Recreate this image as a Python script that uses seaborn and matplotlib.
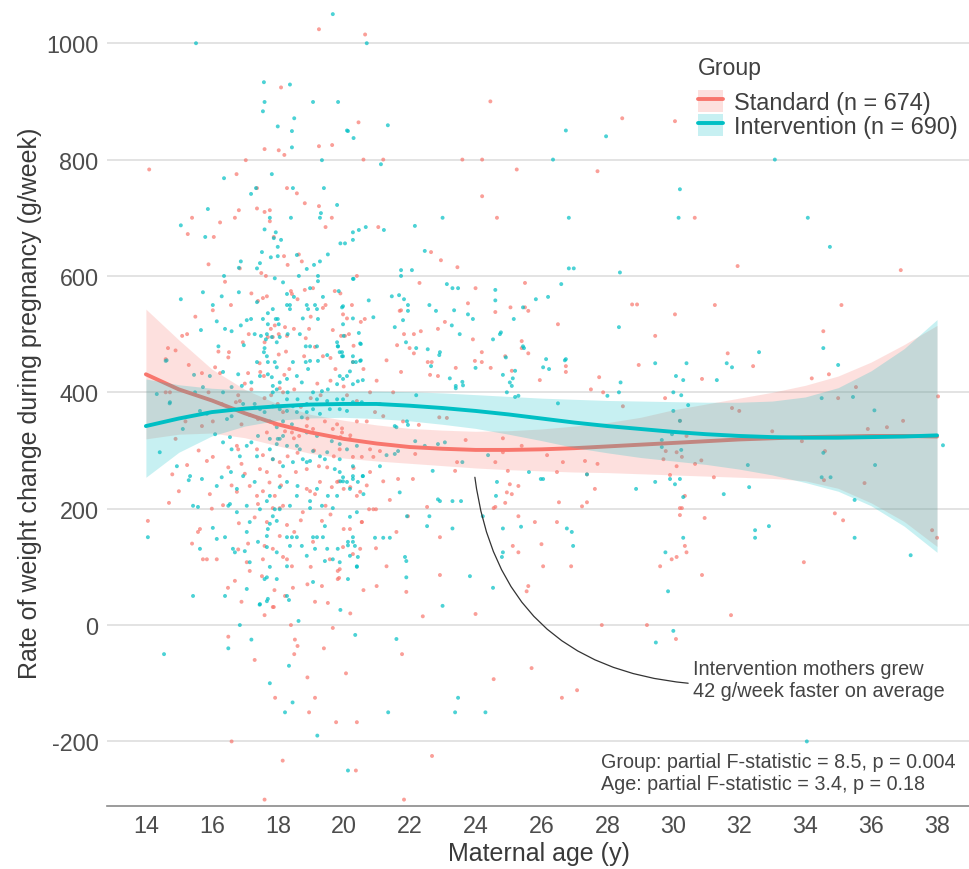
import numpy as np
import pandas as pd
import matplotlib
matplotlib.use("Agg")
import matplotlib.pyplot as plt
from matplotlib.patches import Patch
from matplotlib.lines import Line2D
import seaborn as sns

# --- data ---------------------------------------------------------------------
groups = ["Standard", "Intervention"]
group_labels = ["Standard (n = 674)", "Intervention (n = 690)"]

# (maternal age, weight change g/week)
std_points = [
    (14.1, 783), (19.25, 1024), (18.1, 924), (17.6, 818), (18.03, 816), (18.2, 808), (17.03, 799),
    (19.25, 823), (19.65, 825), (20.45, 864), (20.6, 800), (16.75, 775), (17.37, 751), (18.28, 751),
    (18.58, 742), (18.82, 725), (19.25, 720), (19.64, 700), (19.45, 684), (15.4, 700), (15.27, 672),
    (16.06, 667), (16.25, 692), (16.7, 700), (16.82, 713), (17.37, 716), (17.6, 710), (17.76, 713),
    (17.76, 694), (17.88, 667), (18.19, 634), (18.3, 619), (18.64, 637), (18.73, 625), (16.85, 613),
    (17.5, 605), (17.64, 600), (18.4, 574), (18.43, 569), (18.82, 576), (19.07, 579), (19.73, 574),
    (19.9, 570), (20.4, 600), (20.25, 550), (17.4, 557), (17.55, 562), (17.67, 565), (16.58, 550),
    (16.03, 541), (19.37, 545), (19.45, 550), (19.98, 534), (20.1, 527), (20.52, 521), (20.64, 526),
    (17.91, 515), (17.79, 509), (18.22, 512), (18.49, 509), (18.95, 509), (19.67, 507), (20.16, 500),
    (20.04, 497), (15.1, 497), (15.25, 500), (17.12, 500), (17.7, 495), (17.85, 495), (18.03, 500),
    (18.28, 497), (18.85, 493), (19.92, 497), (16.94, 486), (17.6, 486), (19.13, 478), (14.67, 476),
    (20.65, 1015), (24.45, 900), (28.45, 871), (21.2, 800), (23.6, 800), (24.2, 800), (25.25, 783),
    (27.7, 780), (24.2, 737), (24.65, 700), (21.05, 684), (22.95, 627), (22.65, 641), (23.45, 615),
    (30.05, 866), (30.65, 700), (31.95, 617), (36.9, 610), (22.3, 588), (25.5, 588), (24.0, 579),
    (21.74, 541), (23.77, 553), (24.6, 538), (25.06, 546), (25.5, 546), (25.6, 540), (26.5, 517),
    (21.7, 540), (21.83, 500), (22.13, 500), (22.34, 505), (22.86, 509), (23.07, 521), (22.0, 476),
    (22.55, 452), (22.67, 452), (21.62, 481), (21.74, 435), (22.13, 467), (22.62, 430), (22.86, 428),
    (23.4, 442), (23.92, 491), (23.98, 454), (24.19, 469), (24.19, 452), (24.46, 442), (24.9, 462),
    (25.1, 437), (25.4, 488), (25.4, 476), (25.6, 467), (25.95, 421), (26.74, 445), (26.74, 435),
    (27.5, 405), (27.75, 426), (27.87, 400), (28.47, 376), (28.75, 551), (28.9, 551), (28.95, 447),
    (29.45, 497), (19.8, 345), (19.95, 338), (20.2, 326), (19.9, 323), (20.95, 366), (21.2, 359),
    (21.8, 350), (22.28, 344), (22.9, 357), (23.13, 356), (21.5, 400), (20.8, 302), (21.1, 299),
    (20.9, 289), (22.17, 294), (20.8, 263), (21.2, 247), (21.65, 251), (22.1, 251), (23.44, 280),
    (23.38, 265), (23.7, 318), (24.83, 321), (24.83, 297), (24.98, 265), (24.6, 280), (25.4, 308),
    (26.17, 292), (26.47, 263), (26.65, 280), (27.32, 282), (27.38, 259), (27.7, 277), (25.04, 242),
    (24.95, 228), (24.9, 210), (25.1, 225), (25.3, 239), (24.6, 203), (24.55, 201), (25.3, 187),
    (22.92, 151), (22.53, 203), (21.95, 187), (20.98, 132), (21.3, 101), (21.0, 67), (21.9, 57),
    (22.92, 86), (25.13, 136), (25.3, 125), (25.55, 58), (25.6, 67), (26.0, 139), (25.8, 177),
    (26.05, 101), (26.47, 177), (26.53, 211), (27.23, 204), (27.38, 211), (27.62, 234), (26.9, 101),
    (19.98, 134), (19.82, 93), (19.86, 81), (20.55, 177), (20.77, 199), (20.9, 199), (20.98, 199),
    (31.26, 550), (35.1, 550), (30.05, 534), (34.55, 505), (31.65, 467), (32.42, 445), (34.2, 424),
    (34.72, 431), (30.87, 423), (29.75, 390), (35.54, 409), (35.0, 390), (38.03, 393), (31.78, 373),
    (32.0, 368), (33.0, 333), (33.9, 316), (35.9, 337), (36.48, 340), (36.97, 351), (30.4, 325),
    (30.2, 351), (30.1, 297), (29.77, 299), (30.26, 289), (29.7, 285), (30.66, 277), (30.85, 283),
    (30.1, 273), (29.9, 258), (31.23, 254), (34.6, 299), (34.57, 249), (35.8, 244), (30.35, 222),
    (30.2, 201), (30.26, 201), (30.2, 189), (30.95, 184), (34.9, 192), (35.15, 180), (30.35, 136),
    (30.4, 125), (30.1, 117), (29.95, 113), (29.6, 101), (30.87, 86), (33.96, 108), (37.85, 163),
    (38.0, 150),
    (16.5, -20), (17.6, 17), (17.88, 31), (18.4, 0), (18.52, -25), (18.6, -36), (18.5, -50),
    (17.92, -125), (19.13, -125), (18.95, -150), (16.6, -200), (18.15, -233), (17.6, -300),
    (19.13, 40), (19.52, 38), (19.67, -5), (20.07, -83), (19.77, -167), (20.4, -167), (20.37, -250),
    (21.83, -300), (22.68, -225), (21.77, -50), (22.4, 15), (24.0, 19), (24.55, -93), (25.7, -74),
    (26.62, -125), (27.08, -112), (27.83, 0), (29.2, 0), (31.75, 17), (30.08, -24),
    (15.3, 447), (15.7, 433), (16.25, 433), (16.1, 443), (16.5, 460), (16.52, 469), (17.1, 433),
    (17.47, 435), (17.58, 428), (18.03, 465), (18.25, 470), (18.8, 462), (19.37, 462), (19.6, 459),
    (20.28, 452), (14.6, 457), (14.73, 400), (15.7, 342), (16.03, 350), (16.8, 395), (16.85, 385),
    (16.73, 383), (17.15, 361), (17.4, 354), (17.67, 331), (17.91, 345), (18.16, 366), (18.22, 333),
    (18.43, 331), (18.49, 321), (18.88, 342), (19.07, 337), (19.43, 350), (19.67, 337), (19.95, 331),
    (20.19, 320), (20.55, 289), (20.28, 289), (19.88, 302), (16.76, 308), (16.8, 302), (17.37, 302),
    (17.55, 292), (17.85, 285), (18.06, 280), (18.3, 290), (18.6, 296), (16.03, 289), (15.85, 282),
    (15.25, 275), (14.8, 259), (16.5, 271), (16.9, 277), (17.46, 268), (17.67, 263), (18.06, 256),
    (18.55, 263), (18.88, 268), (19.25, 273), (19.5, 271), (19.8, 246), (20.0, 234), (20.2, 237),
    (20.5, 229), (18.88, 234), (18.98, 230), (19.13, 225), (19.28, 246), (17.15, 239), (17.37, 222),
    (17.55, 230), (17.91, 222), (18.16, 205), (16.76, 229), (16.34, 206), (15.94, 225), (15.64, 165),
    (15.58, 160), (15.73, 113), (15.85, 113), (16.15, 113), (14.06, 179), (16.82, 175), (17.4, 208),
    (17.67, 177), (17.85, 201), (18.06, 201), (18.28, 172), (18.06, 153), (17.6, 136), (17.85, 131),
    (18.16, 117), (18.28, 113), (17.55, 113), (17.06, 108), (18.43, 101), (19.07, 143), (19.34, 179),
    (18.76, 194), (19.58, 113), (19.88, 96), (19.82, 79), (19.34, 67), (18.46, 64), (18.22, 50),
    (17.85, 31), (16.49, 64), (16.7, 76), (17.15, 93), (17.52, 84), (20.28, 122), (20.5, 131),
    (20.19, 165), (20.55, 177), (19.64, 237), (19.85, 247), (20.4, 222), (14.6, 400), (14.9, 472),
    (18.06, 407), (18.16, 400), (19.0, 390), (19.5, 380), (20.0, 410), (18.5, 405), (17.8, 395),
    (20.4, 385), (19.2, 415), (18.2, 430), (20.6, 440), (21.3, 455), (21.0, 420), (20.7, 350),
    (18.0, 380), (18.7, 375), (19.3, 395), (19.6, 420), (20.1, 395), (20.4, 350), (17.2, 405),
    (16.9, 345), (16.3, 380), (15.9, 400), (17.6, 390), (18.9, 355), (19.1, 300), (19.7, 290),
    (20.3, 270), (18.1, 240), (17.0, 260), (16.6, 240), (16.0, 200), (17.3, 185), (18.7, 180),
    (19.6, 190), (20.0, 165), (18.5, 160), (17.1, 140), (16.8, 130), (19.0, 100), (18.9, 70),
    (17.9, 60), (16.9, 40), (20.6, 60), (20.2, 20), (19.4, -40), (17.3, -60), (18.9, -90),
    (20.8, 400), (21.1, 380), (20.3, 480), (19.0, 530), (18.6, 560), (17.2, 570), (16.4, 590),
    (15.9, 620), (15.5, 530), (16.2, 470), (15.6, 300), (15.2, 350), (14.9, 320), (15.0, 230),
    (15.4, 140), (14.7, 210), (17.45, 450), (18.35, 440), (19.75, 440), (17.0, 415), (18.65, 325),
    (17.75, 245), (19.45, 205), (20.7, 240), (21.4, 215), (21.6, 160),
]

int_points = [
    (15.52, 1000), (19.67, 1050), (20.7, 1000), (17.58, 933), (18.37, 929), (17.6, 899), (17.55, 883),
    (19.07, 899), (19.83, 899), (18.5, 871), (18.0, 857), (18.43, 849), (18.43, 821), (20.13, 849),
    (20.3, 837), (20.1, 850), (21.34, 859), (26.74, 850), (27.96, 840), (19.34, 799), (26.35, 800),
    (21.13, 792), (16.37, 768), (17.82, 775), (17.34, 751), (18.46, 751), (19.4, 751), (17.19, 741),
    (19.8, 722), (15.88, 715), (15.06, 687), (15.8, 667), (17.76, 700), (18.4, 700), (19.31, 708),
    (19.28, 700), (17.6, 680), (17.88, 665), (17.94, 675), (18.1, 662), (18.0, 650), (17.52, 641),
    (17.79, 632), (18.0, 634), (18.58, 636), (19.28, 625), (19.52, 637), (19.1, 619), (18.88, 612),
    (20.28, 675), (20.46, 679), (20.67, 684), (20.04, 656), (20.28, 662), (16.88, 625), (16.82, 614),
    (17.46, 622), (17.37, 613), (16.37, 600), (17.91, 596), (18.16, 589), (18.64, 600), (19.22, 600),
    (19.22, 591), (18.98, 579), (19.85, 574), (20.28, 595), (20.76, 558), (15.73, 572), (16.3, 565),
    (16.82, 572), (15.06, 560), (16.03, 550), (18.28, 569), (18.49, 564), (17.37, 555), (18.28, 550),
    (18.37, 550), (18.37, 543), (18.88, 550), (18.92, 543), (19.13, 550), (19.19, 543), (19.37, 564),
    (19.95, 546), (20.28, 527), (16.15, 522), (15.67, 507), (16.6, 505), (16.4, 509), (17.06, 524),
    (17.19, 526), (17.55, 526), (17.7, 536), (17.85, 543), (17.94, 526), (18.0, 526), (17.7, 517),
    (18.03, 517), (18.76, 527), (19.22, 526), (19.98, 517), (16.88, 515), (17.3, 500), (17.49, 497),
    (17.67, 500), (17.64, 491), (17.82, 495), (17.97, 486), (18.06, 495), (18.3, 500), (18.67, 500),
    (18.85, 479), (18.98, 479), (19.19, 479), (19.8, 486), (19.83, 479), (20.52, 483), (20.0, 497),
    (16.2, 479), (16.97, 481), (17.6, 476),
    (23.0, 700), (26.83, 700), (21.22, 679), (22.16, 686), (19.9, 656), (22.46, 643), (26.83, 613),
    (26.98, 613), (28.38, 606), (21.74, 610), (22.07, 610), (21.74, 600), (20.3, 595), (23.13, 586),
    (23.3, 579), (23.47, 579), (24.6, 576), (26.6, 586), (30.2, 749), (30.16, 700), (33.08, 800),
    (34.08, 700), (34.75, 650),
    (21.46, 565), (21.68, 567), (21.83, 560), (21.95, 550), (21.95, 540), (22.6, 550), (22.8, 540),
    (23.35, 541), (23.77, 534), (23.92, 526), (24.6, 558), (25.16, 526), (25.44, 546), (25.83, 560),
    (26.2, 564), (20.9, 529), (21.8, 524), (21.55, 512), (23.28, 515), (23.52, 500), (21.89, 486),
    (22.2, 476), (22.55, 474), (22.9, 464), (22.65, 445), (23.22, 424), (23.4, 411), (23.4, 407),
    (23.6, 418), (23.62, 412), (24.0, 442), (24.53, 491), (24.74, 500), (24.77, 503), (24.92, 460),
    (25.13, 424), (25.47, 476), (26.05, 443), (26.14, 457), (26.23, 440), (26.71, 455), (28.0, 394),
    (28.35, 400), (28.35, 512), (20.52, 455), (20.58, 421), (20.5, 484),
    (19.98, 548), (22.92, 469), (24.83, 430), (25.04, 417), (25.1, 411), (25.2, 392), (24.95, 400),
    (25.3, 394), (25.44, 479), (25.2, 437), (26.74, 457), (26.5, 381), (28.4, 417), (29.45, 450),
    (20.46, 502), (19.82, 479), (19.95, 469), (19.98, 462), (20.28, 452), (20.37, 452), (20.19, 436),
    (19.98, 423), (19.8, 414), (20.28, 414),
    (19.67, 201), (20.4, 194), (20.19, 186), (20.28, 151), (20.34, 136), (20.4, 100), (20.13, 137),
    (20.43, 117), (19.67, 113), (20.95, 150), (21.2, 150), (21.4, 150), (21.9, 82), (21.9, 110),
    (21.92, 187), (22.92, 213), (22.86, 216), (23.56, 213), (22.6, 187), (22.53, 170), (23.3, 166),
    (23.83, 84), (24.53, 64), (24.65, 246), (24.62, 222), (24.83, 166), (24.83, 125), (25.38, 169),
    (24.8, 117), (25.62, 263), (25.98, 251), (26.05, 251), (26.77, 166), (26.92, 160), (26.96, 136),
    (27.38, 259), (28.87, 234), (29.45, 246), (24.38, 292), (24.22, 187), (22.7, 265), (23.3, 213),
    (21.86, 117), (21.7, 228), (21.55, 342), (21.6, 340), (21.92, 350), (21.95, 344), (22.2, 395),
    (22.86, 311), (23.07, 314), (22.46, 308), (22.17, 316), (21.3, 292), (21.55, 294), (21.65, 299),
    (21.1, 273), (20.58, 256), (20.28, 256), (19.98, 247), (19.9, 247), (20.19, 234), (20.6, 225),
    (23.6, 280),
    (30.4, 450), (30.08, 428), (30.3, 421), (31.62, 450), (31.78, 443), (31.32, 421), (32.6, 469),
    (35.0, 447), (34.55, 476), (30.0, 400), (30.24, 395), (30.45, 378), (30.0, 368), (30.2, 351),
    (29.96, 328), (29.65, 318), (29.65, 306), (30.24, 301), (29.9, 251), (30.05, 242), (30.2, 251),
    (30.3, 220), (32.26, 275), (32.3, 237), (31.53, 225), (34.5, 390), (35.45, 392), (36.1, 369),
    (34.55, 296), (34.5, 254), (34.77, 254), (36.12, 275), (35.5, 215), (35.5, 150), (32.48, 163),
    (32.48, 150), (32.9, 170), (30.3, 150), (29.76, 125), (29.84, 58), (37.2, 120), (38.18, 309),
    (30.0, -10), (34.05, -200), (19.9, 26), (23.0, 33), (20.35, -17), (21.6, -24), (23.47, -125),
    (23.38, -150), (24.3, -150), (21.35, -150), (20.13, -250), (29.47, -30), (14.55, -50),
    (16.85, 0), (16.5, -40), (17.2, -25), (17.45, 35), (17.67, 41), (18.34, 43), (18.63, 7),
    (18.34, -70), (17.76, -100), (18.45, -133), (18.22, -150), (19.2, -190),
    (14.63, 455), (15.46, 430), (15.94, 428), (16.34, 435), (16.8, 431), (17.37, 452), (17.7, 452),
    (17.91, 452), (17.97, 443), (17.58, 469), (17.67, 462), (18.46, 452), (18.85, 452), (18.98, 454),
    (19.22, 454), (18.92, 440), (19.5, 464), (19.88, 469), (19.95, 462), (20.28, 462), (20.5, 454),
    (14.33, 397), (14.73, 383), (15.49, 400), (15.73, 409), (16.34, 400), (16.6, 409), (16.91, 411),
    (17.2, 417), (17.46, 428), (17.7, 431), (17.82, 426), (17.97, 405), (17.85, 400), (18.28, 423),
    (18.58, 428), (18.73, 417), (19.07, 400), (19.34, 402), (19.52, 405), (19.88, 428), (20.1, 428),
    (20.43, 419), (19.8, 388), (19.98, 388), (20.28, 383), (20.55, 383), (19.58, 371), (19.88, 371),
    (20.1, 368), (19.07, 371), (18.88, 366), (18.58, 366), (18.28, 368), (18.06, 371), (17.85, 376),
    (17.6, 366), (17.46, 371), (17.3, 380), (16.95, 380), (16.85, 368), (16.6, 359), (16.46, 354),
    (15.85, 363), (15.64, 368), (15.12, 337), (14.42, 297), (14.94, 273), (15.34, 256), (15.3, 249),
    (15.7, 251), (16.3, 254), (16.58, 263), (16.85, 290), (16.6, 302), (17.06, 308), (17.37, 290),
    (17.76, 302), (17.97, 311), (18.06, 320), (18.16, 325), (18.58, 308), (18.67, 302), (18.98, 282),
    (18.88, 280), (19.28, 290), (19.43, 285), (19.73, 268), (19.88, 263), (19.98, 254), (20.28, 251),
    (20.43, 246), (20.58, 256), (19.52, 222), (19.19, 234), (18.6, 239), (18.28, 246), (18.06, 237),
    (17.76, 222), (17.67, 213), (17.3, 246), (16.95, 256), (16.76, 234), (16.5, 205), (16.55, 208),
    (16.15, 239), (15.43, 205), (15.58, 203), (16.03, 167), (16.4, 151), (17.06, 160), (17.4, 143),
    (17.67, 134), (17.7, 165), (17.76, 174), (17.97, 179), (18.06, 199), (17.91, 199), (18.28, 151),
    (18.43, 151), (18.58, 151), (19.07, 151), (19.19, 151), (19.37, 151), (18.98, 201), (19.43, 170),
    (18.73, 136), (19.13, 131), (19.43, 110), (19.82, 131), (20.13, 143), (20.28, 143), (20.19, 119),
    (20.4, 101), (15.64, 131), (15.43, 50), (16.4, 50), (16.7, 125), (17.0, 127), (17.6, 79),
    (17.67, 82), (17.76, 100), (17.97, 125), (18.28, 101), (17.46, 36), (17.7, 45), (18.28, 50),
    (14.06, 151), (17.06, 62), (14.6, 454), (14.72, 381),
    (17.85, 411), (18.06, 417), (18.3, 400), (18.28, 388), (18.6, 388), (18.46, 376), (18.88, 380),
    (19.19, 388), (19.5, 385), (19.28, 363), (18.73, 357), (18.16, 350), (17.76, 350), (17.97, 340),
    (18.43, 345), (18.58, 337), (18.88, 331), (19.19, 325), (19.64, 316), (19.88, 311), (20.1, 302),
    (20.4, 308), (18.0, 320), (18.28, 308), (17.76, 320), (17.4, 325), (17.2, 314), (16.55, 323),
    (16.34, 314), (16.1, 328), (17.85, 285), (18.16, 273), (18.46, 280), (18.76, 285), (19.07, 299),
    (19.5, 297), (19.88, 285), (20.28, 273), (20.1, 246), (19.8, 222), (19.34, 205), (18.98, 213),
    (18.58, 222), (18.37, 205), (17.85, 187), (17.46, 199), (17.06, 205), (16.76, 194), (17.15, 177),
    (17.67, 153), (18.37, 136), (18.88, 119), (19.5, 131), (19.88, 108), (20.13, 79), (19.07, 74),
    (17.97, 79), (17.15, 108), (16.64, 131), (16.15, 148),
]

# fitted smooth + confidence band, read at each year of age
fit_age = list(range(14, 39))
std_fit = [431, 405, 386, 364, 345, 331, 320, 312, 306, 303, 301, 301, 302, 304, 307, 310,
           313, 316, 319, 321, 323, 324, 325, 325, 324]
std_lo = [320, 328, 330, 322, 308, 295, 287, 282, 278, 274, 270, 267, 265, 263, 262, 260,
          258, 256, 254, 252, 248, 235, 210, 178, 135]
std_hi = [543, 490, 440, 405, 380, 362, 352, 344, 338, 335, 333, 334, 337, 342, 348, 357,
          370, 380, 390, 400, 412, 428, 452, 482, 515]
int_fit = [342, 355, 366, 372, 376, 379, 380, 380, 377, 373, 368, 362, 355, 348, 342, 337,
           332, 328, 325, 323, 322, 322, 323, 324, 326]
int_lo = [254, 297, 325, 342, 352, 356, 357, 355, 351, 345, 338, 328, 317, 305, 296, 288,
          282, 276, 268, 258, 245, 230, 205, 170, 125]
int_hi = [423, 413, 407, 404, 402, 402, 402, 402, 401, 399, 396, 393, 390, 388, 386, 385,
          384, 383, 383, 385, 392, 408, 437, 475, 525]

x_ticks = list(range(14, 40, 2))
y_ticks = [-200, 0, 200, 400, 600, 800, 1000]
y_tick_labels = ["-200", "0", "200", "400", "600", "800", "1000"]

note_text = "Intervention mothers grew\n42 g/week faster on average"
stats_text = ("Group: partial F-statistic = 8.5, p = 0.004\n"
              "Age: partial F-statistic = 3.4, p = 0.18")

# --- styling --------------------------------------------------------------------
sns.set_theme(style="white")
plt.rcParams["font.family"] = ["Liberation Sans", "DejaVu Sans"]

colors = {"Standard": "#F8766D", "Intervention": "#00BFC4"}
text_grey = "#4D4D4D"

df = pd.concat([
    pd.DataFrame(std_points, columns=["age", "rate"]).assign(group="Standard"),
    pd.DataFrame(int_points, columns=["age", "rate"]).assign(group="Intervention"),
], ignore_index=True)

fig = plt.figure(figsize=(9.7, 8.7), dpi=100)
ax = fig.add_axes([107 / 970, 63 / 870, 863 / 970, 807 / 870])

sns.scatterplot(data=df, x="age", y="rate", hue="group", palette=colors,
                s=8, linewidth=0, alpha=0.7, legend=False, ax=ax, zorder=1)

bands = {"Standard": (std_fit, std_lo, std_hi), "Intervention": (int_fit, int_lo, int_hi)}
z = 2
for g in groups:
    fit, lo, hi = bands[g]
    ax.fill_between(fit_age, lo, hi, color=colors[g], alpha=0.22, linewidth=0, zorder=z)
    sns.lineplot(x=fit_age, y=fit, color=colors[g], linewidth=2.8, ax=ax, zorder=z + 1)
    z += 2

# annotation with curved connector
ax.annotate("", xy=(30.45, -100), xytext=(23.98, 254),
            arrowprops=dict(arrowstyle="-", connectionstyle="arc3,rad=0.4",
                            color="#333333", lw=0.9, shrinkA=0, shrinkB=0), zorder=7)
ax.text(30.6, -94, note_text, ha="left", va="center", fontsize=14.3,
        color="#444444", linespacing=1.2, zorder=7)

fig.text(601 / 970, 1 - 774 / 870, stats_text, ha="left", va="center", fontsize=14.2,
         color="#444444", linespacing=1.2)

# axes
ax.set_xlim(12.82, 39.0)
ax.set_ylim(-311, 1076)
ax.set_xticks(x_ticks)
ax.set_yticks(y_ticks)
ax.set_yticklabels(y_tick_labels)
ax.tick_params(axis="both", length=0, labelsize=16.8, labelcolor=text_grey, pad=6)
ax.yaxis.grid(True, color="#E0E0E0", linewidth=1.3)
ax.xaxis.grid(False)
ax.set_axisbelow(True)
for side in ["top", "right", "left"]:
    ax.spines[side].set_visible(False)
ax.spines["bottom"].set_color("#8A8A8A")
ax.spines["bottom"].set_linewidth(1.2)
ax.set_xlabel("Maternal age (y)", fontsize=18, color="#3A3A3A", labelpad=3)
ax.set_ylabel("Rate of weight change during pregnancy (g/week)", fontsize=18,
              color="#3A3A3A", labelpad=3)

# legend: ribbon tile with line on top; title placed as its own text
fig.text(698 / 970, 1 - 75 / 870, "Group", ha="left", va="baseline",
         fontsize=16.6, color="#404040")
handles = [(Patch(facecolor=colors[g], alpha=0.22, edgecolor="none"),
            Line2D([], [], color=colors[g], linewidth=2.8)) for g in groups]
leg = fig.legend(handles, group_labels, loc="upper left",
                 bbox_to_anchor=(698 / 970, 1 - 91 / 870), frameon=False,
                 fontsize=16.9, handlelength=1.06, handleheight=1.05,
                 handletextpad=0.47, labelspacing=0.0, borderpad=0, borderaxespad=0)
for t in leg.get_texts():
    t.set_color("#404040")

fig.savefig("out.png", dpi=100)
